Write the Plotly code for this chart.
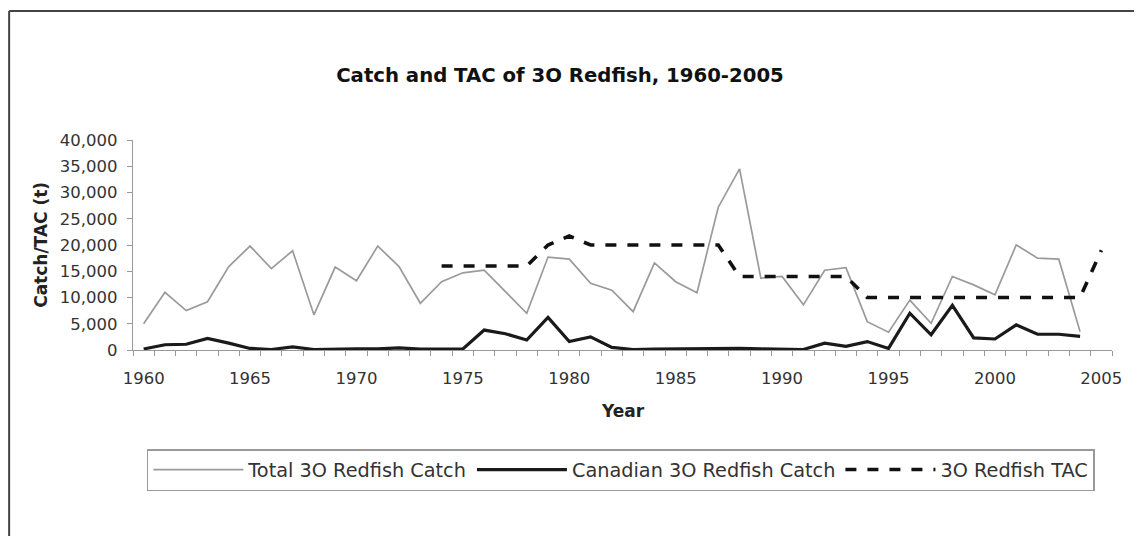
import plotly.graph_objects as go

years = list(range(1960, 2006))
total_catch = [5000, 11000, 7500, 9200, 15900, 19800, 15500, 18900, 6700, 15800,
               13200, 19800, 15900, 8900, 13000, 14700, 15200, 11000, 7000, 17700,
               17300, 12700, 11400, 7300, 16600, 13000, 10900, 27200, 34500, 13700,
               14000, 8600, 15200, 15700, 5400, 3400, 9500, 5100, 14000, 12400,
               10500, 20000, 17500, 17300, 3500, None]
canadian_catch = [200, 1000, 1100, 2200, 1300, 300, 100, 600, 100, 200,
                  200, 200, 400, 150, 150, 200, 3800, 3100, 1900, 6200,
                  1600, 2500, 500, 100, 150, 200, 200, 250, 300, 200,
                  200, 100, 1300, 700, 1600, 300, 7000, 2900, 8500, 2300,
                  2100, 4800, 3000, 3000, 2600, None]
tac = [None] * 14 + [16000, 16000, 16000, 16000, 16000, 20000,
                     21700, 20000, 20000, 20000, 20000, 20000, 20000, 20000, 14000, 14000,
                     14000, 14000, 14000, 14000, 10000, 10000, 10000, 10000, 10000, 10000,
                     10000, 10000, 10000, 10000, 10000, 19000]
x_tick_labels = [1960, 1965, 1970, 1975, 1980, 1985, 1990, 1995, 2000, 2005]
series_names = ["Total 3O Redfish Catch", "Canadian 3O Redfish Catch", "3O Redfish TAC"]

FONT = "DejaVu Sans"
OFF = 8  # page body margin
W, H = 1142 - 2 * OFF, 544 - 2 * OFF
L, T = 133 - OFF, 140 - OFF
pw, ph = 988, 210
R, B = W - L - pw, H - T - ph

def px_x(p):
    return (p - OFF - L) / pw

def px_y(p):
    return (T + ph - (p - OFF)) / ph

fig = go.Figure()
fig.add_trace(go.Scatter(x=years, y=total_catch, mode="lines", name=series_names[0],
                         line=dict(color="#9a9a9a", width=1.7)))
fig.add_trace(go.Scatter(x=years, y=canadian_catch, mode="lines", name=series_names[1],
                         line=dict(color="#1a1a1a", width=3.2)))
fig.add_trace(go.Scatter(x=years, y=tac, mode="lines", name=series_names[2],
                         line=dict(color="#111111", width=3.6, dash="11px,11px")))

fig.update_layout(
    width=W, height=H,
    margin=dict(l=L, r=R, t=T, b=B),
    paper_bgcolor="white", plot_bgcolor="white",
    font=dict(family=FONT, size=16, color="#222"),
    title=dict(text="<b>Catch and TAC of 3O Redfish, 1960-2005</b>",
               x=(560 - OFF) / W, y=1 - (75 - OFF) / H, xanchor="center", yanchor="middle",
               font=dict(family=FONT, size=19.7, color="#111")),
    xaxis=dict(range=[1959.5, 2005.5], tickmode="array", tickvals=x_tick_labels,
               ticks="", showline=True, linecolor="#999", linewidth=1.2,
               showgrid=False, zeroline=False, ticklabelstandoff=13,
               tickfont=dict(size=16.5, color="#333"),
               minor=dict(ticks="outside", tick0=1959.5, dtick=1, ticklen=5,
                          tickcolor="#999", tickwidth=1, showgrid=False)),
    yaxis=dict(range=[0, 40000], dtick=5000, tickformat=",", ticks="outside",
               ticklen=5, tickcolor="#999", showline=True, linecolor="#999",
               linewidth=1.2, showgrid=False, zeroline=False, ticklabelstandoff=6,
               tickfont=dict(size=16.5, color="#333")),
    legend=dict(orientation="h", x=px_x(147), y=px_y(449), xanchor="left", yanchor="top",
                bordercolor="#999", borderwidth=1.5, bgcolor="white",
                font=dict(family=FONT, size=19.3, color="#333"), itemwidth=90,
                tracegroupgap=0),
    showlegend=True,
)

fig.add_annotation(text="<b>Catch/TAC (t)</b>", xref="paper", yref="paper",
                   x=px_x(40), y=0.5, textangle=-90, showarrow=False,
                   xanchor="center", yanchor="middle",
                   font=dict(family=FONT, size=17, color="#222"))
fig.add_annotation(text="<b>Year</b>", xref="paper", yref="paper",
                   x=0.5, y=px_y(411), showarrow=False,
                   xanchor="center", yanchor="middle",
                   font=dict(family=FONT, size=17, color="#222"))

# outer frame (left and top edges visible)
fig.add_shape(type="line", xref="paper", yref="paper", x0=px_x(8), x1=px_x(1150),
              y0=px_y(11), y1=px_y(11), line=dict(color="#444", width=2))
fig.add_shape(type="line", xref="paper", yref="paper", x0=px_x(8), x1=px_x(8),
              y0=px_y(11), y1=px_y(560), line=dict(color="#444", width=2))

fig.write_html("out.html")
